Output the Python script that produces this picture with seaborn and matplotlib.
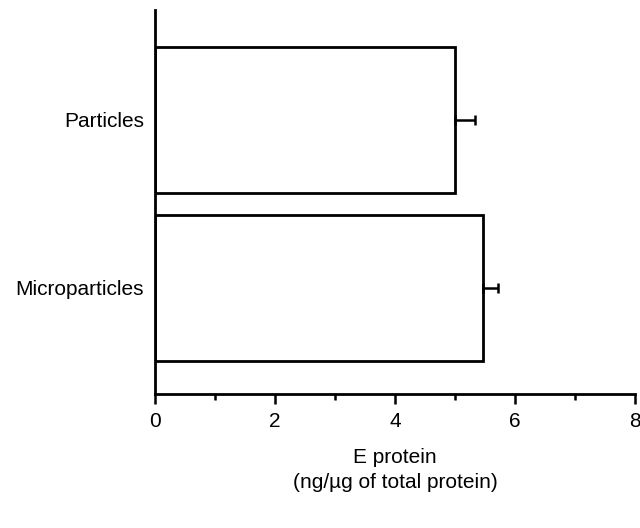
import matplotlib
matplotlib.use("Agg")
import matplotlib.pyplot as plt
import seaborn as sns
import pandas as pd
from matplotlib.ticker import MultipleLocator

categories = ["Particles", "Microparticles"]
values = [5.0, 5.47]
errors = [0.33, 0.24]
xticks = [0, 2, 4, 6, 8]

sns.set_theme(style="white")
plt.rcParams["font.family"] = ["Liberation Sans", "DejaVu Sans"]

df = pd.DataFrame({"group": categories, "value": values})

fig = plt.figure(figsize=(6.4, 5.28), dpi=100)
ax = fig.add_axes([0.2422, 0.2538, 0.75, 0.7272])

sns.barplot(data=df, x="value", y="group", orient="h", order=categories,
            color="white", edgecolor="black", linewidth=2.0, width=0.87,
            errorbar=None, ax=ax)

# one-sided (positive) error bars
ax.errorbar(values, range(len(categories)),
            xerr=[[0] * len(errors), errors], fmt="none",
            ecolor="black", elinewidth=1.8, capsize=3.5, capthick=1.8)

ax.set_xlim(0, 8)
ax.set_ylim(1.632, -0.653)
ax.set_xticks(xticks)
ax.set_xticklabels([str(t) for t in xticks])
ax.xaxis.set_minor_locator(MultipleLocator(1))

for side in ["top", "right"]:
    ax.spines[side].set_visible(False)
for side in ["left", "bottom"]:
    ax.spines[side].set_linewidth(2.0)
    ax.spines[side].set_color("black")

ax.tick_params(axis="x", which="major", bottom=True, length=7, width=1.8,
               color="black", labelsize=15, pad=6, labelcolor="black")
ax.tick_params(axis="x", which="minor", bottom=True, length=4, width=1.8,
               color="black")
ax.tick_params(axis="y", left=False, length=0, labelsize=15, pad=8,
               labelcolor="black")

ax.set_ylabel("")
ax.set_xlabel("E protein\n(ng/\u00b5g of total protein)", fontsize=15,
              labelpad=12, linespacing=1.4, color="black")

fig.savefig("out.png", dpi=100)
